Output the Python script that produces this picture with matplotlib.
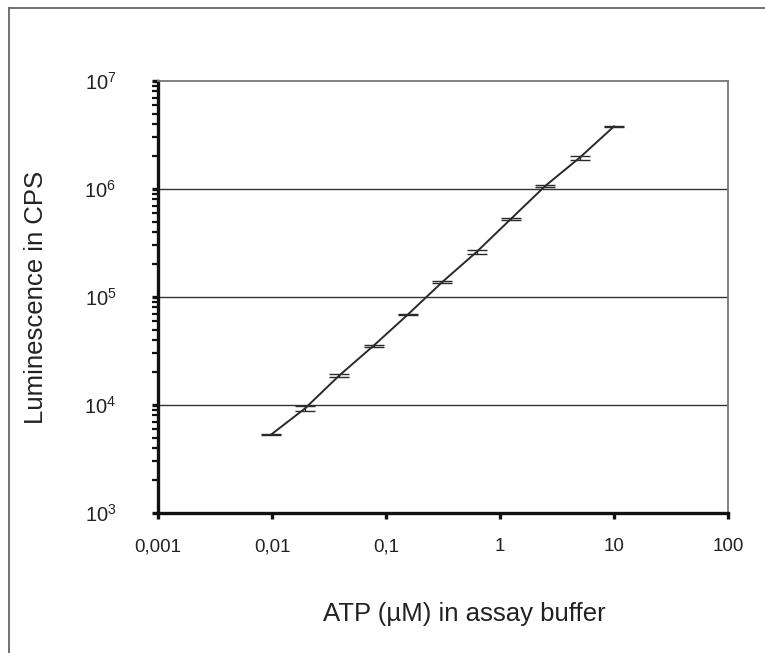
import numpy as np
import matplotlib
matplotlib.use('Agg')
import matplotlib.pyplot as plt
from matplotlib.ticker import FixedLocator, FixedFormatter, LogLocator, NullFormatter
from matplotlib.lines import Line2D

plt.rcParams['font.family'] = ['Liberation Sans', 'DejaVu Sans']
plt.rcParams['mathtext.default'] = 'regular'

# ATP dilution series (uM) and measured luminescence (CPS)
atp = [0.00977, 0.0195, 0.039, 0.078, 0.156, 0.3125, 0.625, 1.25, 2.5, 5, 10]
cps = [5300, 9300, 18800, 35500, 69000, 138000, 262000, 530000, 1.07e6, 1.95e6, 3.8e6]
cps_err = [80, 550, 750, 700, 700, 2800, 10000, 10000, 30000, 75000, 40000]

xticks = [0.001, 0.01, 0.1, 1, 10, 100]
xticklabels = ['0,001', '0,01', '0,1', '1', '10', '100']
hlines = [1e4, 1e5, 1e6]

fig = plt.figure(figsize=(7.65, 6.53), dpi=100)
ax = fig.add_axes([158/765, 140/653, 570/765, 432/653])

ax.set_xscale('log')
ax.set_yscale('log')
ax.set_xlim(0.001, 100)
ax.set_ylim(1e3, 1e7)

for h in hlines:
    ax.axhline(h, color='#333333', lw=1.0, zorder=1)

ax.errorbar(atp, cps, yerr=cps_err, color='#2a2a2a', lw=1.4,
            capsize=7, capthick=1.0, elinewidth=1.0, zorder=3)

# spines
for s in ['left', 'bottom']:
    ax.spines[s].set_color('#111111')
    ax.spines[s].set_linewidth(2.4)
for s in ['top', 'right']:
    ax.spines[s].set_color('#777777')
    ax.spines[s].set_linewidth(1.3)

# ticks
ax.xaxis.set_major_locator(FixedLocator(xticks))
ax.xaxis.set_major_formatter(FixedFormatter(xticklabels))
ax.xaxis.set_minor_locator(FixedLocator([]))
ax.yaxis.set_major_locator(LogLocator(base=10, numticks=10))
ax.yaxis.set_minor_locator(LogLocator(base=10, subs=np.arange(2, 10), numticks=10))
ax.yaxis.set_minor_formatter(NullFormatter())

ax.tick_params(axis='x', which='major', direction='out', length=4, width=2.4,
               labelsize=13.5, pad=14, colors='#111111', labelcolor='#222222')
ax.tick_params(axis='y', which='major', direction='out', length=4, width=2.4,
               labelsize=14.5, pad=26, colors='#111111', labelcolor='#222222')
ax.tick_params(axis='y', which='minor', direction='out', length=4, width=1.6,
               colors='#111111')
ax.tick_params(top=False, right=False, which='both')

ax.set_xlabel('ATP (\u00b5M) in assay buffer', fontsize=18.5, color='#222222')
ax.set_ylabel('Luminescence in CPS', fontsize=18.5, color='#222222')
ax.xaxis.set_label_coords(0.537, -0.206)
ax.yaxis.set_label_coords(-0.193, 0.5)

# outer frame (top and left edges of the cropped figure box)
fig.add_artist(Line2D([9/765, 9/765], [0, 1 - 8/653], transform=fig.transFigure,
                      color='#666666', lw=1.3))
fig.add_artist(Line2D([9/765, 1], [1 - 8/653, 1 - 8/653], transform=fig.transFigure,
                      color='#666666', lw=1.3))

fig.savefig('out.png', dpi=100)
